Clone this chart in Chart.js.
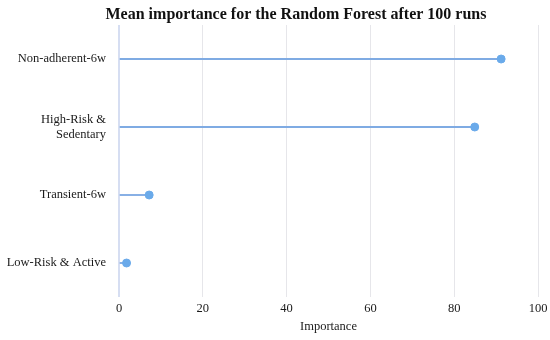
<!DOCTYPE html>
<html>
<head>
<meta charset="utf-8">
<script src="https://cdn.jsdelivr.net/npm/chart.js@4"></script>
<style>
  html, body { margin: 0; padding: 0; background: #fff; }
  #wrap { width: 550px; height: 340px; }
</style>
</head>
<body>
<div id="wrap"><canvas id="rfChart" width="550" height="340"></canvas></div>
<script>
// features and their mean importance
const features = ["Non-adherent-6w", ["High-Risk &", "Sedentary"], "Transient-6w", "Low-Risk & Active"];
const importance = [91.2, 84.9, 7.2, 1.8];
const xTicks = [0, 20, 40, 60, 80, 100];
const chartTitle = "Mean importance for the Random Forest after 100 runs";

const serif = "'Liberation Serif', 'Times New Roman', serif";
const lineCol = "#7fabe3";
const dotCol = "#6aaaea";

// title sits a bit left of the canvas centre in the original, so draw it ourselves
const titlePlugin = {
    id: "offsetTitle",
    afterDraw(chart) {
        const c = chart.ctx;
        c.save();
        c.font = "bold 16px " + serif;
        c.fillStyle = "#111";
        c.textAlign = "center";
        c.textBaseline = "alphabetic";
        c.fillText(chartTitle, 296, 19);
        c.restore();
    }
};

let ctx = document.getElementById("rfChart").getContext("2d");
new Chart(ctx, {
    data: {
        labels: features,
        datasets: [{
            type: "bar",
            data: importance,
            backgroundColor: lineCol,
            barThickness: 1.2,
            order: 2
        }, {
            type: "line",
            data: importance,
            showLine: false,
            pointRadius: 4,
            pointHoverRadius: 4,
            pointBackgroundColor: dotCol,
            pointBorderColor: dotCol,
            order: 1
        }]
    },
    options: {
        indexAxis: "y",
        responsive: false,
        animation: false,
        layout: { padding: { left: 0, right: 0, top: 25, bottom: 0 } },
        plugins: {
            legend: { display: false },
            tooltip: { enabled: false },
            title: { display: false }
        },
        scales: {
            x: {
                type: "linear",
                min: 0,
                max: 100,
                afterBuildTicks: function (axis) {
                    axis.ticks = xTicks.map(v => ({ value: v }));
                },
                afterFit: function (axis) {
                    axis.height = 43;
                    axis.paddingLeft = 0;
                    axis.paddingRight = 12;
                },
                grid: {
                    drawTicks: false,
                    color: c => c.tick && c.tick.value === 0 ? "#d6def2" : "#e6e6ea",
                    lineWidth: c => c.tick && c.tick.value === 0 ? 2 : 1
                },
                border: { display: false },
                ticks: { color: "#1a1a1a", padding: 4, font: { family: serif, size: 12.5 } },
                title: {
                    display: true,
                    text: "Importance",
                    color: "#1a1a1a",
                    font: { family: serif, size: 12.5 },
                    padding: { top: 0, bottom: 6 }
                }
            },
            y: {
                grid: { display: false, drawTicks: false },
                border: { display: false },
                afterFit: function (axis) { axis.width = 119; },
                ticks: { color: "#1a1a1a", padding: 13, font: { family: serif, size: 12.5 } }
            }
        }
    },
    plugins: [titlePlugin]
});
</script>
</body>
</html>
